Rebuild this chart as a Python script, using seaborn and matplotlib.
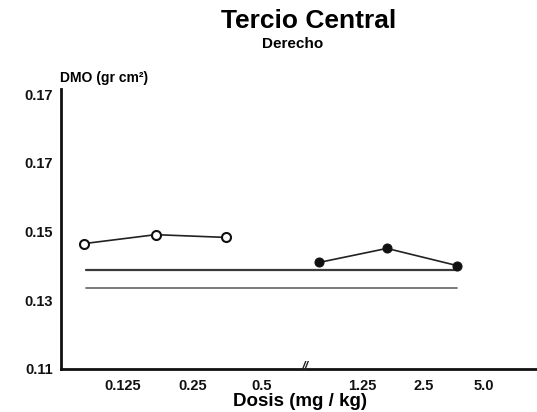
import matplotlib
matplotlib.use("Agg")
import matplotlib.pyplot as plt
import seaborn as sns
import pandas as pd

# ---- data ----
tick_labels_x = ["0.125", "0.25", "0.5", "1.25", "2.5", "5.0"]
tick_pos_x = [1.0, 2.0, 3.0, 4.45, 5.33, 6.19]

low_pos = [0.44, 1.47, 2.48]
low_dmo = [0.1465, 0.1491, 0.1483]

high_pos = [3.82, 4.80, 5.81]
high_dmo = [0.1410, 0.1451, 0.1401]

ref_levels = [0.1387, 0.1335]
ref_span = [0.47, 5.81]

y_ticks = [0.11, 0.13, 0.15, 0.17, 0.19]
y_tick_labels = ["0.11", "0.13", "0.15", "0.17", "0.17"]

sns.set_theme(style="white")
plt.rcParams["font.family"] = ["Liberation Sans", "DejaVu Sans"]
plt.rcParams["text.color"] = "black"

fig = plt.figure(figsize=(5.37, 4.12), dpi=100)
ax = fig.add_axes([61/537, 1-369/412, 1-61/537, (369-89)/412])

# reference lines
ref_df = pd.DataFrame({
    "x": ref_span * 2,
    "y": [ref_levels[0]] * 2 + [ref_levels[1]] * 2,
    "g": ["a", "a", "b", "b"],
})
sns.lineplot(data=ref_df[ref_df.g == "a"], x="x", y="y", ax=ax, color="#3a3a3a", lw=1.6)
sns.lineplot(data=ref_df[ref_df.g == "b"], x="x", y="y", ax=ax, color="#707070", lw=1.3)

low_df = pd.DataFrame({"x": low_pos, "y": low_dmo})
high_df = pd.DataFrame({"x": high_pos, "y": high_dmo})
sns.lineplot(data=low_df, x="x", y="y", ax=ax, color="#222222", lw=1.2,
             marker="o", markersize=6.5, markerfacecolor="white",
             markeredgecolor="#111111", markeredgewidth=1.5)
sns.lineplot(data=high_df, x="x", y="y", ax=ax, color="#222222", lw=1.2,
             marker="o", markersize=6.5, markerfacecolor="#111111",
             markeredgecolor="#111111")

ax.set_xlim(0.108, 6.96)
ax.set_ylim(0.11, 0.1915)
ax.set_xticks(tick_pos_x)
ax.set_xticklabels(tick_labels_x, fontsize=10.5, fontweight="bold", color="black")
ax.set_yticks(y_ticks)
ax.set_yticklabels(y_tick_labels, fontsize=10.5, fontweight="bold", color="black")
ax.tick_params(axis="x", direction="in", length=4, width=1, pad=7, colors="#111111")
ax.tick_params(axis="y", direction="out", length=4, width=1, pad=2, colors="#111111")
ax.set_xlabel("")
ax.set_ylabel("")

for s in ["top", "right"]:
    ax.spines[s].set_visible(False)
for s in ["left", "bottom"]:
    ax.spines[s].set_color("#111111")
    ax.spines[s].set_linewidth(2)

# axis break mark
ax.text(3.62, 0.1107, "//", ha="center", va="center", fontsize=9, fontweight="bold",
        color="#222222", style="italic")

fig.text(309/537, 1-21/412, "Tercio Central", ha="center", va="center",
         fontsize=19, fontweight="bold")
fig.text(293/537, 1-44/412, "Derecho", ha="center", va="center",
         fontsize=11, fontweight="bold")
fig.text(60/537, 1-78/412, "DMO (gr cm²)", ha="left", va="center",
         fontsize=10, fontweight="bold")
fig.text(300/537, 1-401/412, "Dosis (mg / kg)", ha="center", va="center",
         fontsize=13.5, fontweight="bold")

fig.savefig("out.png", dpi=100)
